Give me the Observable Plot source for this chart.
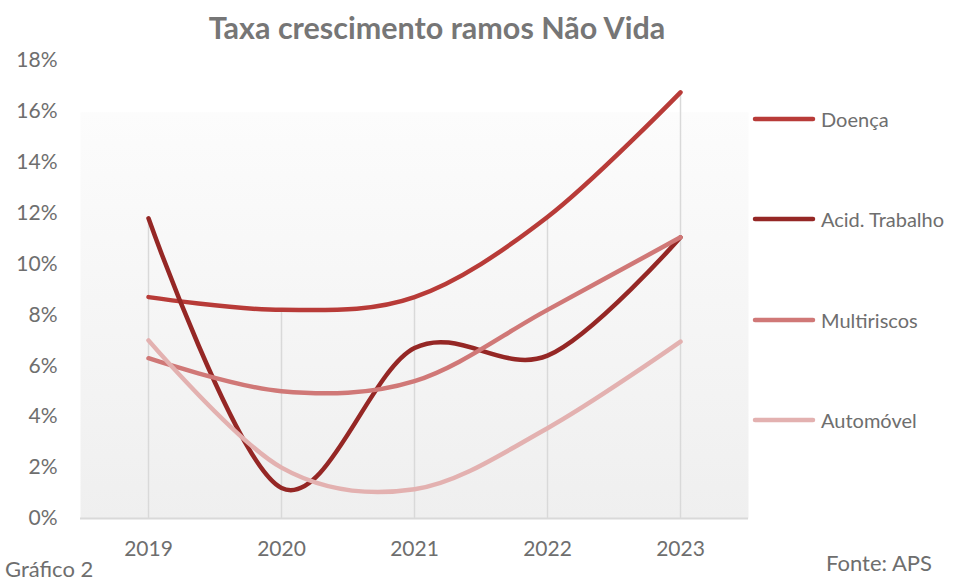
<!DOCTYPE html>
<html><head><meta charset="utf-8">
<script src="https://cdn.jsdelivr.net/npm/d3@7"></script>
<script src="https://cdn.jsdelivr.net/npm/@observablehq/plot@0.6"></script>
<style>
body{margin:0;background:#fff;}
#chart{position:relative;width:966px;height:582px;font-family:Lato, "Open Sans", sans-serif;color:#6e6e6e;overflow:hidden;background:#fff}
#title{position:absolute;left:0;top:7px;width:874px;text-align:center;font-weight:700;font-size:30.5px;color:#767676;line-height:40px}
#plot{position:absolute;left:0;top:48px}
#legend{position:absolute;left:752px;top:107px}
.item{display:flex;align-items:center;height:24px;margin-bottom:76.3px;font-size:20px;color:#6e6e6e}
.item svg{margin-right:5px}
#src{position:absolute;left:826px;top:551px;font-size:22px;line-height:24px}
#fig{position:absolute;left:5px;top:557px;font-size:22px;line-height:24px}
</style>
</head><body>
<div id="chart">
  <div id="title">Taxa crescimento ramos Não Vida</div>
  <div id="plot"></div>
  <div id="legend"></div>
  <div id="fig">Gráfico 2</div>
  <div id="src">Fonte: APS</div>
</div>
<script>
const years = [2019, 2020, 2021, 2022, 2023];
const seriesNames = ["Doença", "Acid. Trabalho", "Multiriscos", "Automóvel"];
const doenca = [8.7, 8.2, 8.7, 11.85, 16.75];
const acidTrabalho = [11.8, 1.2, 6.7, 6.4, 11.05];
const multiriscos = [6.3, 5.0, 5.4, 8.2, 11.05];
const automovel = [7.0, 2.0, 1.15, 3.55, 6.95];
const seriesColors = ["#b83b38", "#952725", "#d07877", "#e3b1b0"];
const yTicks = [0, 2, 4, 6, 8, 10, 12, 14, 16, 18];

const seriesValues = [doenca, acidTrabalho, multiriscos, automovel];
const rows = [];
seriesNames.forEach((name, i) => {
  years.forEach((yr, j) => rows.push({series: name, year: yr, value: seriesValues[i][j]}));
});
const maxByYear = years.map((yr, j) => ({year: yr, max: d3.max(seriesValues, s => s[j])}));

const svg = Plot.plot({
  width: 750,
  height: 510,
  marginTop: 12,
  marginBottom: 40,
  marginLeft: 80,
  marginRight: 2,
  style: {fontFamily: "Lato, 'Open Sans', sans-serif", fontSize: "21px", color: "#6e6e6e", background: "transparent", overflow: "visible"},
  x: {type: "point", domain: years, padding: 0.5, label: null},
  y: {domain: [0, 18], label: null},
  color: {domain: seriesNames, range: seriesColors},
  marks: [
    Plot.frame({fill: "url(#bgGrad)", stroke: "none"}),
    Plot.axisY({ticks: yTicks, tickSize: 0, tickPadding: 23, tickFormat: d => d + "%", label: null}),
    Plot.axisX({tickSize: 0, tickPadding: 23, tickFormat: d => String(d), label: null}),
    Plot.ruleX(maxByYear, {x: "year", y1: 0, y2: "max", stroke: "#d9d9d9", strokeWidth: 1.5}),
    Plot.ruleY([0], {stroke: "#d9d9d9", strokeWidth: 2}),
    Plot.line(rows, {x: "year", y: "value", z: "series", stroke: "series", curve: "cardinal",
      strokeWidth: 4.5, strokeLinecap: "round", strokeLinejoin: "round"})
  ]
});

const defs = document.createElementNS("http://www.w3.org/2000/svg", "defs");
defs.innerHTML = `<linearGradient id="bgGrad" x1="0" y1="0" x2="0" y2="1">
  <stop offset="0" stop-color="#ffffff"/>
  <stop offset="0.112" stop-color="#ffffff"/>
  <stop offset="0.114" stop-color="#fcfcfc"/>
  <stop offset="1" stop-color="#efefef"/>
</linearGradient>`;
svg.insertBefore(defs, svg.firstChild);
document.getElementById("plot").appendChild(svg);

const legend = d3.select("#legend");
seriesNames.forEach((name, i) => {
  const item = legend.append("div").attr("class", "item");
  const s = item.append("svg").attr("width", 64).attr("height", 10);
  s.append("line").attr("x1", 3).attr("x2", 61).attr("y1", 5).attr("y2", 5)
    .attr("stroke", seriesColors[i]).attr("stroke-width", 4.5).attr("stroke-linecap", "round");
  item.append("span").text(name);
});
</script>
</body></html>
